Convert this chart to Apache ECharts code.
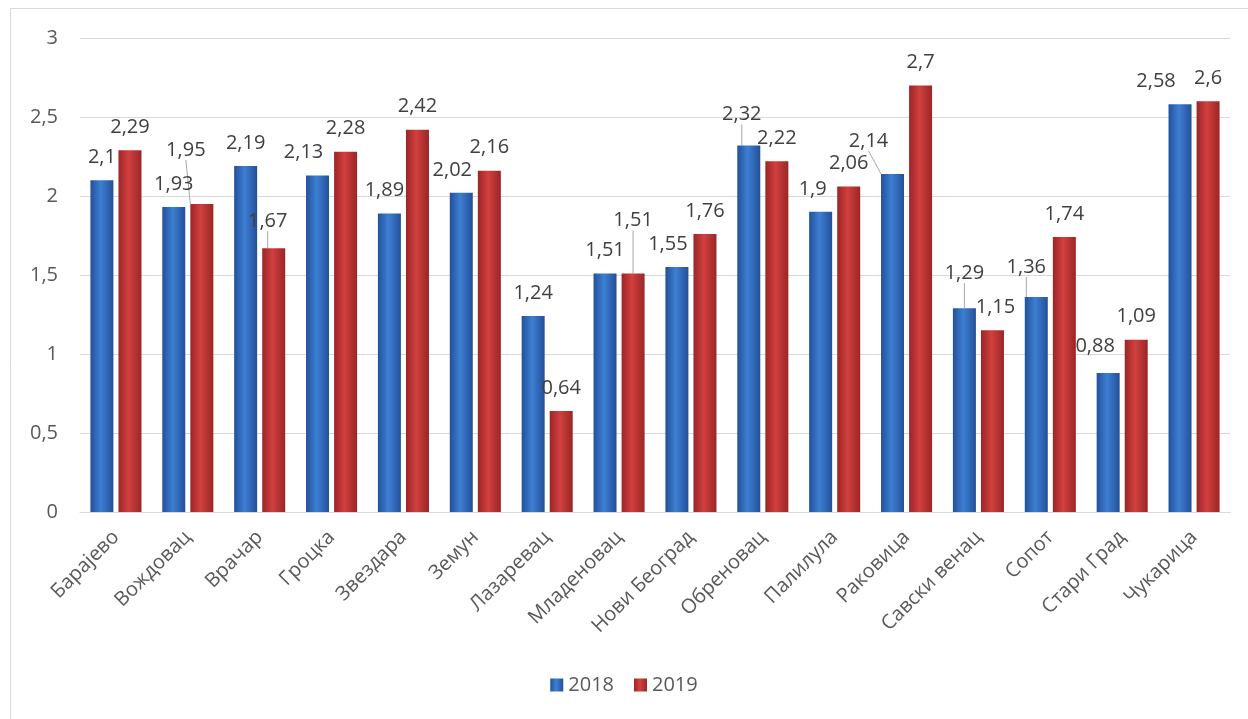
<!DOCTYPE html>
<html>
<head>
<meta charset="utf-8">
<script src="https://cdn.jsdelivr.net/npm/echarts@6/dist/echarts.min.js"></script>
<style>
  html, body { margin: 0; padding: 0; background: #fff; }
  #chart { width: 1248px; height: 719px; }
</style>
</head>
<body>
<div id="chart"></div>
<script>
const categories = ['Барајево', 'Вождовац', 'Врачар', 'Гроцка', 'Звездара', 'Земун', 'Лазаревац', 'Младеновац',
  'Нови Београд', 'Обреновац', 'Палилула', 'Раковица', 'Савски венац', 'Сопот', 'Стари Град', 'Чукарица']
const values2018 = [2.1, 1.93, 2.19, 2.13, 1.89, 2.02, 1.24, 1.51, 1.55, 2.32, 1.9, 2.14, 1.29, 1.36, 0.88, 2.58]
const values2019 = [2.29, 1.95, 1.67, 2.28, 2.42, 2.16, 0.64, 1.51, 1.76, 2.22, 2.06, 2.7, 1.15, 1.74, 1.09, 2.6]
const seriesNames = ['2018', '2019']

// labels that were dragged around in the original (dx, dy, leader line)
const moved = [
  { 3: [-14, 0], 4: [-5, 0], 5: [-9, 0], 8: [-9, 0], 9: [-7, -8, 1], 10: [-8, 0], 11: [-24, -10, 1],
    12: [0, -12, 1], 13: [-10, -7, 1], 14: [-13, -4], 15: [-24, 0] },
  { 1: [-16, -31, 1], 2: [-6, -4, 1], 7: [0, -30, 1], 12: [3, 0] }
]

const comma = v => String(v).replace('.', ',')
const font = '"Open Sans", "Noto Sans", sans-serif'

function barColor(edge, mid) {
  return new echarts.graphic.LinearGradient(0, 0, 1, 0, [
    { offset: 0, color: edge },
    { offset: 0.45, color: mid },
    { offset: 1, color: edge }
  ])
}

const colors = [barColor('#23509a', '#3d7fd2'), barColor('#9b2527', '#d1403f')]

function makeData(values, s) {
  return values.map((v, i) => {
    const m = moved[s][i]
    if (!m || !m[2]) return v
    return { value: v, labelLine: { show: true, lineStyle: { color: '#a6a6a6', width: 1 } } }
  })
}

const chart = echarts.init(document.getElementById('chart'))
chart.setOption({
  animation: false,
  textStyle: { fontFamily: font },
  graphic: [{
    type: 'rect',
    shape: { x: 10.5, y: 8.5, width: 1300, height: 800 },
    style: { fill: 'none', stroke: '#d9d9d9', lineWidth: 1 },
    silent: true
  }],
  grid: { left: 80, right: 18, top: 38, bottom: 207 },
  legend: {
    bottom: 19,
    icon: 'rect',
    itemWidth: 13,
    itemHeight: 13,
    itemGap: 20,
    textStyle: { fontSize: 20, color: '#595959', fontFamily: font },
    data: seriesNames
  },
  xAxis: {
    type: 'category',
    data: categories,
    axisLine: { lineStyle: { color: '#d9d9d9', width: 1 } },
    axisTick: { show: false },
    axisLabel: { rotate: 45, interval: 0, margin: 22, fontSize: 20, color: '#595959', fontFamily: font }
  },
  yAxis: {
    type: 'value',
    min: 0,
    max: 3,
    interval: 0.5,
    axisLine: { show: false },
    axisTick: { show: false },
    splitLine: { lineStyle: { color: '#d9d9d9', width: 1 } },
    axisLabel: { margin: 22, fontSize: 20, color: '#595959', fontFamily: font, formatter: comma }
  },
  series: [values2018, values2019].map((vals, s) => ({
    name: seriesNames[s],
    type: 'bar',
    barWidth: 23,
    barGap: '22%',
    data: makeData(vals, s),
    itemStyle: { color: colors[s] },
    label: {
      show: true,
      position: 'top',
      distance: 13,
      fontSize: 20,
      color: '#404040',
      fontFamily: font,
      formatter: p => comma(p.value)
    },
    labelLayout: p => {
      const m = moved[s][p.dataIndex]
      return m ? { dx: m[0], dy: m[1] } : {}
    }
  }))
})
</script>
</body>
</html>
